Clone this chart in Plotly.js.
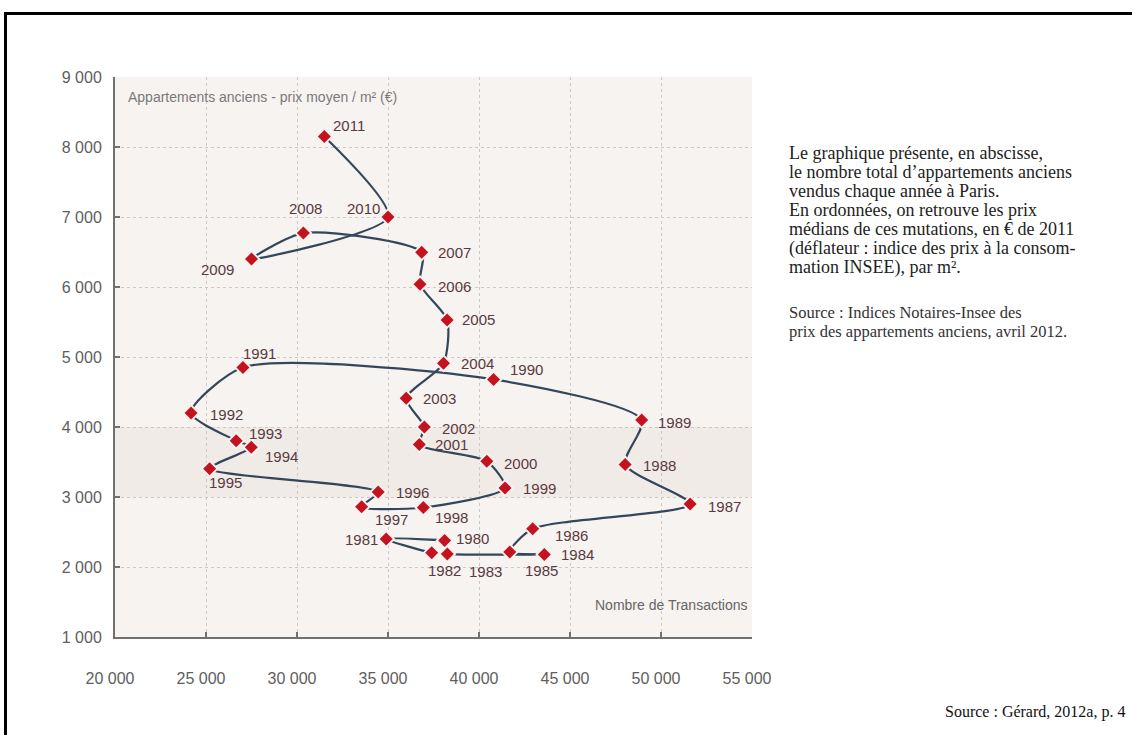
<!DOCTYPE html>
<html>
<head>
<meta charset="utf-8">
<script src="https://cdn.plot.ly/plotly-3.0.1.min.js"></script>
<style>
  html, body { margin: 0; padding: 0; background: #ffffff; }
  #wrap { position: relative; width: 1132px; height: 735px; overflow: hidden; }
  #chart { position: absolute; left: 0; top: 0; width: 1132px; height: 735px; }
  #frame { position: absolute; left: 4px; top: 12px; width: 1140px; height: 740px;
           border-top: 3px solid #000; border-left: 3px solid #000; pointer-events: none; }
</style>
</head>
<body>
<div id="wrap">
  <div id="chart"></div>
  <div id="frame"></div>
</div>
<script>
// ---- Data ----
const years = [1980, 1981, 1982, 1983, 1984, 1985, 1986, 1987, 1988, 1989,
               1990, 1991, 1992, 1993, 1994, 1995, 1996, 1997, 1998, 1999,
               2000, 2001, 2002, 2003, 2004, 2005, 2006, 2007, 2008, 2009,
               2010, 2011];
const transactions = [38110, 34900, 37400, 38260, 43590, 41690, 42950, 51600, 48030, 48940,
                      40800, 27030, 24180, 26660, 27490, 25200, 34460, 33550, 36940, 41430,
                      40430, 36720, 37000, 36000, 38050, 38250, 36760, 36850, 30350, 27500,
                      35000, 31500];
const prices = [2380, 2400, 2205, 2185, 2180, 2215, 2545, 2900, 3465, 4100,
                4680, 4850, 4200, 3805, 3710, 3405, 3070, 2860, 2850, 3130,
                3510, 3750, 4000, 4410, 4910, 5530, 6040, 6495, 6770, 6400,
                7000, 8150];
const xTicks = [20000, 25000, 30000, 35000, 40000, 45000, 50000, 55000];
const yTicks = [1000, 2000, 3000, 4000, 5000, 6000, 7000, 8000, 9000];

const yAxisNote = 'Appartements anciens - prix moyen / m² (€)';
const xAxisNote = 'Nombre de Transactions';
const descLines = [
  'Le graphique présente, en abscisse,',
  'le nombre total d\u2019appartements anciens',
  'vendus chaque année à Paris.',
  'En ordonnées, on retrouve les prix',
  'médians de ces mutations, en € de 2011',
  '(déflateur : indice des prix à la consom-',
  'mation INSEE), par m².'
];
const sourceLines = [
  'Source : Indices Notaires-Insee des',
  'prix des appartements anciens, avril 2012.'
];
const footSource = 'Source : Gérard, 2012a, p. 4';

// ---- Label placement (style: pixel offsets of each year label from its marker) ----
const labelOffsets = {
  1980: [28, -2], 1981: [-25, 0], 1982: [13, 18], 1983: [38, 17], 1984: [33, 0],
  1985: [32, 19], 1986: [39, 7], 1987: [34, 2], 1988: [34, 1], 1989: [33, 2],
  1990: [33, -10], 1991: [17, -14], 1992: [35, 1], 1993: [29, -7], 1994: [30, 9],
  1995: [16, 14], 1996: [34, 0], 1997: [30, 13], 1998: [28, 10], 1999: [34, 1],
  2000: [34, 2], 2001: [32, 0], 2002: [34, 1], 2003: [33, 0], 2004: [34, 0],
  2005: [31, 0], 2006: [34, 2], 2007: [33, 0], 2008: [2, -25], 2009: [-34, 10],
  2010: [-25, -9], 2011: [25, -11]
};

const BG = '#f6f3f1';
const sans = '"Liberation Sans", Arial, sans-serif';
const serif = '"Liberation Serif", "Times New Roman", serif';

// plot area geometry (px) used to place free text in paper coordinates
const PLOT_TOP = 77, PLOT_BOTTOM = 637, PLOT_LEFT = 115, PLOT_RIGHT = 752;
const py = v => (PLOT_BOTTOM - v) / (PLOT_BOTTOM - PLOT_TOP);
const px = v => (v - PLOT_LEFT) / (PLOT_RIGHT - PLOT_LEFT);

const traces = [
  {
    type: 'scatter', mode: 'lines',
    x: transactions, y: prices,
    line: { shape: 'spline', smoothing: 0.7, color: '#34475a', width: 2.2 },
    hoverinfo: 'skip', showlegend: false
  },
  {
    type: 'scatter', mode: 'markers',
    x: transactions, y: prices,
    marker: { symbol: 'diamond', size: 14, color: BG },
    hoverinfo: 'skip', showlegend: false
  },
  {
    type: 'scatter', mode: 'markers',
    x: transactions, y: prices, text: years.map(String),
    marker: { symbol: 'diamond', size: 10, color: '#c4121f' },
    showlegend: false
  }
];

const annotations = years.map((yr, i) => ({
  x: transactions[i], y: prices[i], xref: 'x', yref: 'y',
  text: String(yr), showarrow: false,
  xanchor: 'center', yanchor: 'middle',
  xshift: labelOffsets[yr][0], yshift: -labelOffsets[yr][1],
  font: { family: sans, size: 15, color: '#5a3a40' }
}));

annotations.push({
  xref: 'paper', yref: 'paper', x: px(126), y: py(97), xanchor: 'left', yanchor: 'middle',
  text: yAxisNote, showarrow: false,
  font: { family: sans, size: 14, color: '#7a7a7a' }
});
annotations.push({
  xref: 'paper', yref: 'paper', x: px(750), y: py(605), xanchor: 'right', yanchor: 'middle',
  text: xAxisNote, showarrow: false,
  font: { family: sans, size: 14, color: '#666' }
});
descLines.forEach((t, i) => annotations.push({
  xref: 'paper', yref: 'paper', x: px(787), y: py(153 + 19 * i), xanchor: 'left', yanchor: 'middle',
  align: 'left', text: t, showarrow: false,
  font: { family: serif, size: 18, color: '#222' }
}));
sourceLines.forEach((t, i) => annotations.push({
  xref: 'paper', yref: 'paper', x: px(787), y: py(312 + 19 * i), xanchor: 'left', yanchor: 'middle',
  align: 'left', text: t, showarrow: false,
  font: { family: serif, size: 16.5, color: '#333' }
}));
annotations.push({
  xref: 'paper', yref: 'paper', x: px(1127), y: py(712), xanchor: 'right', yanchor: 'middle',
  align: 'right', text: footSource, showarrow: false,
  font: { family: serif, size: 16, color: '#111' }
});

const layout = {
  width: 1132, height: 735,
  margin: { l: PLOT_LEFT, r: 1132 - PLOT_RIGHT, t: PLOT_TOP, b: 735 - PLOT_BOTTOM },
  paper_bgcolor: '#ffffff',
  plot_bgcolor: BG,
  separators: ', ',
  showlegend: false,
  hovermode: 'closest',
  xaxis: {
    range: [20000, 55000], tickmode: 'array', tickvals: xTicks,
    tickformat: ',d',
    showgrid: true, gridcolor: '#cdc8c4', griddash: 'dot', gridwidth: 1,
    zeroline: false, showline: true, linecolor: '#707070', linewidth: 2,
    ticks: 'inside', ticklen: 5, tickcolor: '#707070', tickwidth: 1.5,
    ticklabelstandoff: 26, ticklabelshift: -5,
    tickfont: { family: sans, size: 16, color: '#5e5e5e' },
    fixedrange: true
  },
  yaxis: {
    range: [1000, 9000], tickmode: 'array', tickvals: yTicks,
    tickformat: ',d',
    showgrid: true, gridcolor: '#cdc8c4', griddash: 'dot', gridwidth: 1,
    zeroline: false, showline: true, linecolor: '#707070', linewidth: 2,
    ticks: 'inside', ticklen: 5, tickcolor: '#707070', tickwidth: 1.5,
    ticklabelstandoff: 8,
    tickfont: { family: sans, size: 16, color: '#5e5e5e' },
    fixedrange: true
  },
  shapes: [
    { type: 'rect', xref: 'paper', yref: 'y', x0: 0, x1: 1, y0: 3000, y1: 4000,
      fillcolor: '#f1ebe8', line: { width: 0 }, layer: 'below' }
  ],
  annotations: annotations
};

Plotly.newPlot('chart', traces, layout, { displayModeBar: false });
</script>
</body>
</html>
